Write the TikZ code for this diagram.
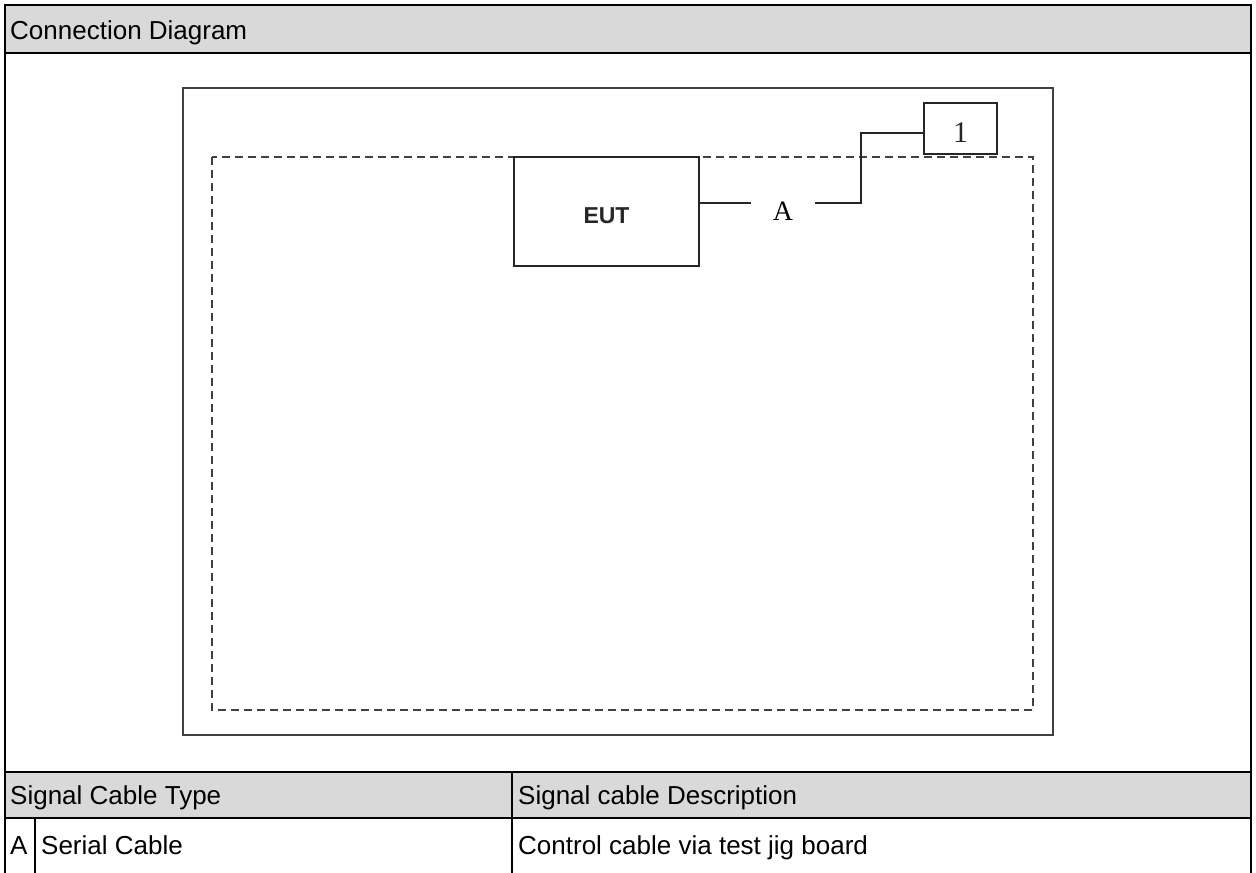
\documentclass[tikz,border=0pt]{standalone}
\usepackage{fontspec}
\setmainfont{Liberation Sans}
\newfontfamily\serifface{Liberation Serif}
\begin{document}
\begin{tikzpicture}[x=1pt,y=-1pt,
  frame/.style={line width=2pt,black},
  hdr/.style={fill=black!15},
  cell/.style={anchor=base west,inner sep=0pt,font=\fontsize{26}{30}\selectfont},
  boxline/.style={line width=2pt,black!75},
  dashline/.style={line width=2pt,black!75,dash pattern=on 8pt off 5pt},
  unit/.style={draw,line width=2pt,black!85,inner sep=0pt,text depth=0pt},
  cable/.style={line width=2pt,black!85}]
\useasboundingbox (0,0) rectangle (1256,873);
\clip (0,0) rectangle (1256,873);
% table bands
\fill[hdr] (5,5) rectangle (1251,53);
\fill[hdr] (5,772) rectangle (1251,818);
\draw[frame] (5,890) -- (5,5) -- (1251,5) -- (1251,890);
\draw[frame] (5,53) -- (1251,53);
\draw[frame] (5,772) -- (1251,772);
\draw[frame] (5,818) -- (1251,818);
\draw[frame] (512,772) -- (512,890);
\draw[frame] (35,818) -- (35,890);
\node[cell] (title) at (10,39) {Connection Diagram};
\node[cell] (h1) at (10,804) {Signal Cable Type};
\node[cell] (h2) at (518,804) {Signal cable Description};
\node[cell] (r1) at (10,854) {A};
\node[cell] (r2) at (41,854) {Serial Cable};
\node[cell] (r3) at (518,854) {Control cable via test jig board};
% diagram
\draw[boxline] (183,88) rectangle (1053,735);
\draw[dashline] (212,157) rectangle (1033,710);
\node[unit,fill=white,minimum width=185pt,minimum height=109pt,text height=24.5pt,
  font=\bfseries\fontsize{23}{26}\selectfont] (EUT) at (606.5,211.5) {EUT};
\node[unit,fill=white,minimum width=73pt,minimum height=51pt,text height=28pt,
  font=\serifface\fontsize{30}{34}\selectfont] (one) at (960.5,128.5) {1};
\node[inner sep=0pt,minimum width=64pt,font=\serifface\fontsize{28}{32}\selectfont] (A) at (783,211) {A};
\coordinate (bend) at (861,203);
\coordinate (top) at (861,133);
\draw[cable] (EUT.east |- bend) -- (A.west |- bend);
\draw[cable] (A.east |- bend) -- (bend) -- (top) -- (one.west |- top);
\end{tikzpicture}
\end{document}
